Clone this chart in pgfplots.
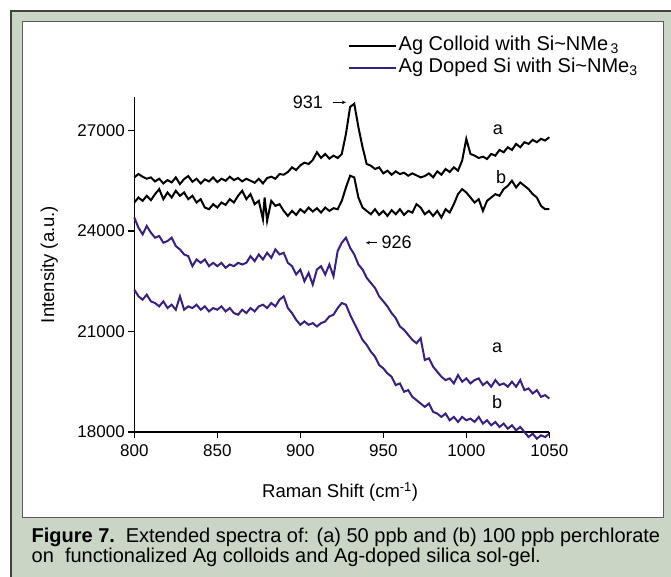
\documentclass[border=0pt]{standalone}
\usepackage{pgfplots}
\pgfplotsset{compat=1.18}
\usepackage{pgfplotstable}
\usetikzlibrary{arrows.meta}
\usepackage{fontspec}
\setmainfont{Liberation Sans}

\definecolor{framebg}{RGB}{201,213,197}
\definecolor{dopedpurple}{RGB}{58,30,128}

% Ag colloid, 50 ppb (a)
\pgfplotstableread{
x y
800 25600
802.5 25700
805 25620
807.5 25560
810 25600
812.5 25480
815 25560
817.5 25420
820 25520
822.5 25450
825 25600
827.5 25400
830 25550
832.5 25640
835 25470
837.5 25560
840 25420
842.5 25540
845 25480
847.5 25600
850 25460
852.5 25560
855 25500
857.5 25620
860 25520
862.5 25580
865 25480
867.5 25560
870 25500
872.5 25440
875 25560
877.5 25420
880 25580
882.5 25620
885 25560
887.5 25700
890 25680
892.5 25760
895 25900
897.5 25820
900 25960
902.5 26040
905 26000
907.5 26120
910 26350
912.5 26180
915 26300
917.5 26160
920 26250
922.5 26180
925 26300
927.5 26900
930 27700
932.5 27800
935 27100
937.5 26500
940 26000
942.5 25950
945 25850
947.5 25900
950 25720
952.5 25800
955 25680
957.5 25780
960 25700
962.5 25740
965 25650
967.5 25720
970 25660
972.5 25600
975 25640
977.5 25720
980 25600
982.5 25780
985 25680
987.5 25850
990 25760
992.5 25900
995 25800
997.5 26100
1000 26750
1002.5 26300
1005 26250
1007.5 26180
1010 26220
1012.5 26150
1015 26300
1017.5 26250
1020 26420
1022.5 26350
1025 26500
1027.5 26420
1030 26600
1032.5 26500
1035 26650
1037.5 26600
1040 26720
1042.5 26650
1045 26750
1047.5 26700
1050 26800
}\colloida

% Ag colloid, 100 ppb (b)
\pgfplotstableread{
x y
800 24850
802.5 25000
805 24900
807.5 25050
810 24920
812.5 25100
815 25250
817.5 24950
820 25150
822.5 25000
825 25200
827.5 25050
830 25150
832.5 24950
835 25050
837.5 24850
840 24950
842.5 24700
845 24650
847.5 24800
850 24700
852.5 24850
855 24780
857.5 24950
860 24850
862.5 25050
865 25200
867.5 24950
870 25100
872.5 24800
875 24900
877.5 24350
878.5 25000
880 24300
882.5 24900
885 24750
887.5 24800
890 24600
892.5 24450
895 24600
897.5 24480
900 24650
902.5 24550
905 24700
907.5 24580
910 24680
912.5 24550
915 24700
917.5 24600
920 24680
922.5 24650
925 24900
927.5 25300
930 25650
932.5 25600
935 25000
937.5 24700
940 24600
942.5 24500
945 24650
947.5 24480
950 24600
952.5 24450
955 24620
957.5 24500
960 24650
962.5 24480
965 24600
967.5 24550
970 24800
972.5 24700
975 24500
977.5 24600
980 24450
982.5 24600
985 24400
987.5 24650
990 24550
992.5 24800
995 25100
997.5 25250
1000 25150
1002.5 25000
1005 24850
1007.5 24950
1010 24600
1012.5 24900
1015 25000
1017.5 25100
1020 25050
1022.5 25250
1025 25350
1027.5 25500
1030 25300
1032.5 25450
1035 25350
1037.5 25250
1040 25100
1042.5 25000
1045 24750
1047.5 24650
1050 24650
}\colloidb

% Ag doped silica, 50 ppb (a)
\pgfplotstableread{
x y
800 24400
802.5 24100
805 23900
807.5 24150
810 23950
812.5 23800
815 23850
817.5 23650
820 23700
822.5 23800
825 23550
827.5 23450
830 23300
832.5 23250
835 22950
837.5 23150
840 23050
842.5 23150
845 22950
847.5 23050
850 22950
852.5 23050
855 22900
857.5 23000
860 22950
862.5 23050
865 23000
867.5 23050
870 23250
872.5 23100
875 23300
877.5 23150
880 23350
882.5 23200
885 23450
887.5 23300
890 23350
892.5 23050
895 22950
897.5 22700
900 22850
902.5 22500
905 22750
907.5 22400
910 22850
912.5 22950
915 22700
917.5 23000
920 22650
922.5 23400
925 23650
927.5 23800
930 23500
932.5 23300
935 23000
937.5 22850
940 22600
942.5 22450
945 22300
947.5 22050
950 21900
952.5 21750
955 21550
957.5 21400
960 21150
962.5 21050
965 20900
967.5 20750
970 20650
972.5 20800
975 20150
977.5 20200
980 19950
982.5 19800
985 19650
987.5 19550
990 19600
992.5 19450
995 19700
997.5 19500
1000 19600
1002.5 19450
1005 19550
1007.5 19600
1010 19400
1012.5 19500
1015 19350
1017.5 19550
1020 19400
1022.5 19450
1025 19350
1027.5 19500
1030 19350
1032.5 19550
1035 19250
1037.5 19300
1040 19150
1042.5 19250
1045 19050
1047.5 19100
1050 19000
}\dopeda

% Ag doped silica, 100 ppb (b)
\pgfplotstableread{
x y
800 22250
802.5 22050
805 21950
807.5 22100
810 21900
812.5 21850
815 21750
817.5 21900
820 21700
822.5 21800
825 21650
827.5 22050
830 21650
832.5 21750
835 21700
837.5 21800
840 21650
842.5 21750
845 21600
847.5 21700
850 21650
852.5 21750
855 21600
857.5 21700
860 21550
862.5 21500
865 21650
867.5 21550
870 21700
872.5 21600
875 21750
877.5 21800
880 21700
882.5 21850
885 21750
887.5 21950
890 22050
892.5 21700
895 21550
897.5 21350
900 21200
902.5 21300
905 21200
907.5 21250
910 21150
912.5 21250
915 21300
917.5 21450
920 21500
922.5 21700
925 21850
927.5 21800
930 21500
932.5 21250
935 21000
937.5 20750
940 20600
942.5 20400
945 20250
947.5 20000
950 19900
952.5 19750
955 19650
957.5 19400
960 19450
962.5 19200
965 19250
967.5 19050
970 18950
972.5 18850
975 18750
977.5 18850
980 18600
982.5 18550
985 18450
987.5 18550
990 18350
992.5 18450
995 18300
997.5 18450
1000 18350
1002.5 18400
1005 18300
1007.5 18450
1010 18250
1012.5 18350
1015 18200
1017.5 18300
1020 18150
1022.5 18250
1025 18100
1027.5 18200
1030 18050
1032.5 18150
1035 18000
1037.5 17850
1040 17950
1042.5 17800
1045 17900
1047.5 17850
1050 17950
}\dopedb

\begin{document}
\begin{tikzpicture}
\useasboundingbox (0,0) rectangle (671pt,577pt);
\begin{scope}
\clip (0,0) rectangle (671pt,577pt);
% outer frame and white panel
\filldraw[fill=framebg, draw=black!75, line width=1.5pt] (11pt,-20pt) rectangle (690pt,566pt);
\filldraw[fill=white, draw=black!65, line width=1pt] (22pt,59pt) rectangle (663pt,555pt);
\end{scope}

\begin{axis}[
    at={(134.3pt,145pt)}, anchor=south west,
    width=415pt, height=335pt, scale only axis,
    xmin=800, xmax=1050,
    ymin=18000, ymax=28000,
    xtick={800,850,...,1050},
    ytick={18000,21000,24000,27000},
    scaled y ticks=false,
    axis x line=bottom, axis y line=left,
    axis line style={-, line width=1.3pt},
    tick align=outside,
    major tick length=6pt,
    tick style={line width=1.3pt, black},
    /pgf/number format/set thousands separator={},
    /pgf/number format/assume math mode=true,
    tick label style={font=\fontsize{17}{20}\selectfont},
    xticklabel style={yshift=-3pt},
    xlabel={Raman Shift (cm\textsuperscript{-1})},
    ylabel={Intensity (a.u.)},
    every axis x label/.style={at={(rel axis cs:0.496,-0.179)}, anchor=center,
        font=\fontsize{18.5}{21}\selectfont},
    every axis y label/.style={at={(rel axis cs:-0.205,0.5)}, rotate=90, anchor=center,
        font=\fontsize{18.5}{21}\selectfont},
    clip=false,
    legend style={at={(rel axis cs:0.515,1.186)}, anchor=north west,
        draw=none, fill=none, font=\fontsize{20}{22}\selectfont,
        inner sep=0pt, row sep=0pt,
        nodes={inner sep=1.5pt, text height=14pt, text depth=5pt}},
    legend cell align=left,
    legend image code/.code={\draw[#1] (0pt,0pt) -- (47pt,0pt);},
]
\addplot[black, line width=2pt] table[x=x,y=y] {\colloida};
\addlegendentry{Ag Colloid with Si\textasciitilde NMe\textsubscript{\,3}}
\addplot[dopedpurple, line width=2pt] table[x=x,y=y] {\dopeda};
\addlegendentry{Ag Doped Si with Si\textasciitilde NMe\textsubscript{3}}
\addplot[black, line width=2pt, forget plot] table[x=x,y=y] {\colloidb};
\addplot[dopedpurple, line width=2pt, forget plot] table[x=x,y=y] {\dopedb};

% peak labels
\node[font=\fontsize{18}{20}\selectfont] at (axis cs:904.5,27840) {931};
\draw[-{Stealth[length=4pt,width=3.5pt]}, line width=0.8pt] (axis cs:919.5,27840) -- (axis cs:927.5,27840);
\node[font=\fontsize{18}{20}\selectfont] at (axis cs:958,23650) {926};
\draw[-{Stealth[length=4pt,width=3.5pt]}, line width=0.8pt] (axis cs:946.5,23650) -- (axis cs:939.5,23650);
\node[font=\fontsize{18}{20}\selectfont] at (axis cs:1019,27030) {a};
\node[font=\fontsize{18}{20}\selectfont] at (axis cs:1021,25600) {b};
\node[font=\fontsize{18}{20}\selectfont] at (axis cs:1018.5,20510) {a};
\node[font=\fontsize{18}{20}\selectfont] at (axis cs:1018.5,18900) {b};
\end{axis}

% caption
\node[anchor=base west, inner sep=0pt, font=\fontsize{20}{22}\selectfont]
  at (31.5pt,34pt) {\textbf{Figure 7.}\, Extended spectra of: (a) 50 ppb and (b) 100 ppb perchlorate};
\node[anchor=base west, inner sep=0pt, font=\fontsize{20}{22}\selectfont]
  at (31.5pt,14pt) {on\ \ functionalized Ag colloids and Ag-doped silica sol-gel.};
\end{tikzpicture}
\end{document}
